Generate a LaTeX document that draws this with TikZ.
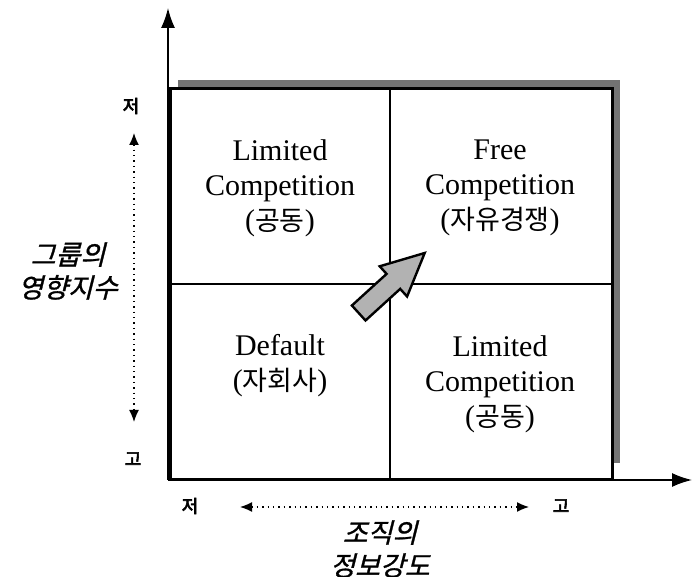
\documentclass[tikz,border=0pt]{standalone}
\usepackage{fontspec}
\setmainfont{Liberation Serif}
\newfontfamily\krfont{Noto Sans CJK KR}
\newfontfamily\kritfont[FakeSlant=0.25,FakeBold=1]{Noto Sans CJK KR}
\newfontfamily\krbfont[FakeBold=3]{Noto Sans CJK KR}
\usepackage{tikz}
\usetikzlibrary{arrows.meta,positioning,calc}
\newcommand\kor[1]{{\krfont\fontsize{13.5pt}{18pt}\selectfont #1}}
\tikzstyle{quadcell} = [align=center, font=\fontsize{15pt}{17.5pt}\selectfont]
\tikzstyle{endmark} = [font=\krbfont\fontsize{9pt}{10pt}\selectfont]
\tikzstyle{axislabel} = [align=center, font=\kritfont\fontsize{13.5pt}{16.5pt}\selectfont]
\tikzstyle{axisline} = [line width=0.8pt, -{Latex[length=10pt,width=7pt]}]
\tikzstyle{scalearrow} = [dotted, line width=0.7pt, {Latex[length=6pt,width=5pt]}-{Latex[length=6pt,width=5pt]}]
\tikzstyle{blockarrow} = [line width=1.2pt, fill=black!30, line join=miter]

\begin{document}
\begin{tikzpicture}[x=0.5pt, y=-0.5pt]
    \useasboundingbox (0,0) rectangle (692,577);
    % shadow and frame
    \fill[black!55] (178,80) rectangle (620,463);
    \draw[line width=1.5pt, fill=white] (170,89) rectangle (612,480);
    \draw[line width=1pt] (390,89) -- (390,480);
    \draw[line width=1pt] (170,284) -- (612,284);
    % axes
    \coordinate (O) at (168,480);
    \coordinate (Ytop) at (168,8);
    \coordinate (Xend) at (692,480);
    \draw[axisline] (O) -- (Ytop);
    \draw[axisline] (O) -- (Xend);
    % quadrants
    \node[quadcell] (LC1) at (280,188) {Limited\\Competition\\(\kor{공동})};
    \node[quadcell] (FC) at (500,188) {Free\\Competition\\(\kor{자유경쟁})};
    \node[quadcell] (DF) at (280,366) {Default\\(\kor{자회사})};
    \node[quadcell] (LC2) at (500,384) {Limited\\Competition\\(\kor{공동})};
    % vertical scale
    \node[endmark] (Ylow) at (131,106) {저};
    \node[endmark] (Yhigh) at (133,459) {고};
    \coordinate (Ya) at (134,133);
    \coordinate (Yb) at (134,422);
    \draw[scalearrow] (Ya) -- (Yb);
    \node[axislabel] (Ylab) at (68,271) {그룹의\\영향지수};
    % horizontal scale
    \node[endmark] (Xlow) at (190,506) {저};
    \node[endmark] (Xhigh) at (561,506) {고};
    \coordinate (Xa) at (240,507);
    \coordinate (Xb) at (529,507);
    \draw[scalearrow] (Xa) -- (Xb);
    \node[axislabel] (Xlab) at (380,549) {조직의\\정보강도};
    % block arrow
    \draw[blockarrow] (351.9,305.5) -- (386.6,273.9) -- (379.7,266.3) -- (424.7,253)
        -- (407.1,296.5) -- (400.2,288.9) -- (365.5,320.5) -- cycle;
\end{tikzpicture}
\end{document}
